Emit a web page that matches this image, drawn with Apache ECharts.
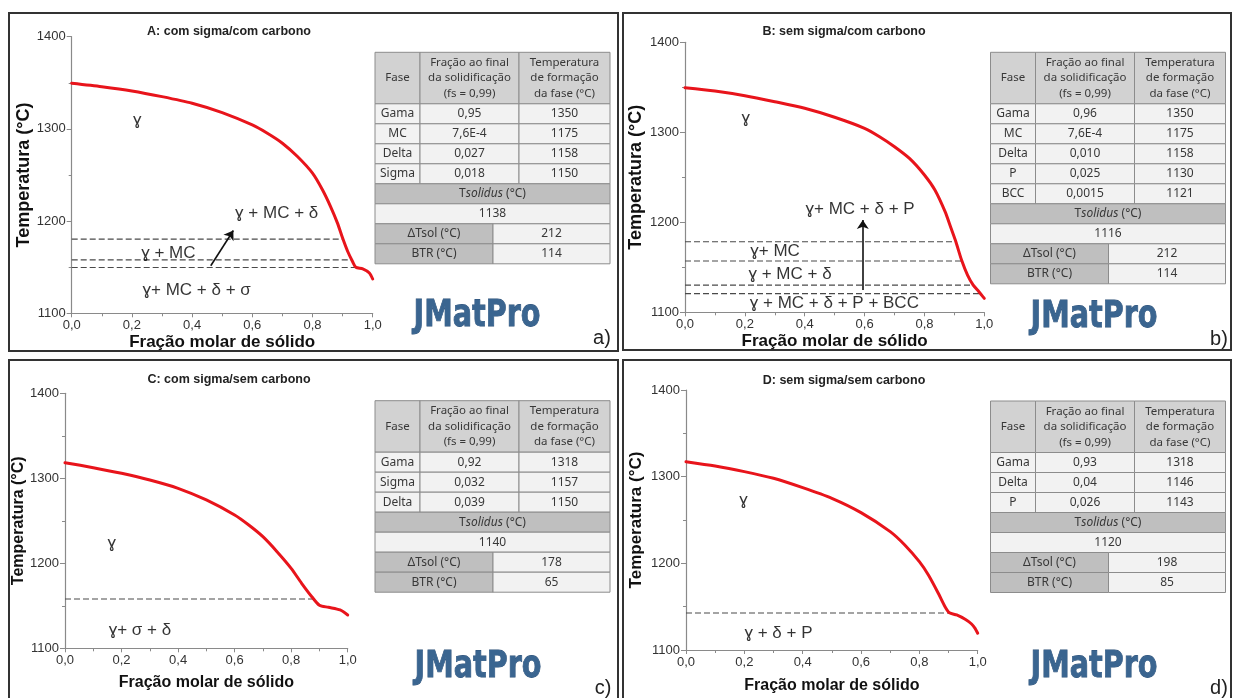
<!DOCTYPE html>
<html><head><meta charset="utf-8">
<script src="https://cdn.jsdelivr.net/npm/echarts@6/dist/echarts.min.js"></script>
<style>html,body{margin:0;padding:0;background:#fff}#c{width:1233px;height:698px}</style>
</head><body><div id="c"></div>
<script>
// ---------- DATA ----------
const titles = ['A: com sigma/com carbono','B: sem sigma/com carbono','C: com sigma/sem carbono','D: sem sigma/sem carbono'];
const tags = ['a)','b)','c)','d)'];
const xAxisName = 'Fração molar de sólido';
const yAxisName = 'Temperatura (°C)';

// solidification curves [fraction solid, T °C]
const curveA = [[0,1349.5],[0.1,1345.8],[0.2,1341.2],[0.3,1335],[0.4,1327.8],[0.5,1317.7],[0.6,1304.3],[0.65,1295.3],[0.7,1284.5],[0.75,1270],[0.8,1252],[0.833,1234],[0.86,1215.8],[0.883,1197.8],[0.9,1181.6],[0.917,1167],[0.933,1156.2],[0.944,1150],[0.967,1148.3],[0.989,1143.7],[1.0,1137.2]];
const curveB = [[0,1349.6],[0.1,1345.9],[0.2,1340.7],[0.3,1334],[0.4,1326.7],[0.5,1316.7],[0.6,1304.4],[0.65,1295.1],[0.7,1284],[0.75,1271],[0.8,1252.6],[0.835,1235.9],[0.869,1211.8],[0.889,1193.3],[0.905,1178.4],[0.924,1158.1],[0.944,1141.4],[0.963,1130.3],[0.982,1122.9],[1.0,1115.5]];
const curveC = [[0,1318.4],[0.1,1312.5],[0.2,1305.9],[0.3,1298],[0.4,1288.2],[0.5,1274.5],[0.6,1256.8],[0.65,1245],[0.7,1231.3],[0.75,1213.7],[0.8,1194.1],[0.837,1176.5],[0.873,1160.7],[0.9,1150.6],[0.932,1148.2],[0.973,1145.1],[1.0,1139.2]];
const curveD = [[0,1317.3],[0.1,1312.3],[0.2,1305.8],[0.3,1298.1],[0.4,1287.3],[0.5,1275],[0.6,1258.5],[0.7,1236.6],[0.75,1221.2],[0.8,1201.9],[0.831,1186.5],[0.865,1165.4],[0.888,1150],[0.903,1143],[0.928,1140.4],[0.957,1135.4],[0.979,1130],[0.991,1125],[1.0,1119.3]];

// dashed phase-boundary lines [T, fraction where line ends]
const dashA = [[1180.5,0.903],[1158,0.933],[1149.7,0.941]];
const dashB = [[1178.4,0.905],[1157,0.927],[1130.3,0.961],[1120.7,0.986]];
const dashC = [[1158,0.884]];
const dashD = [[1142.7,0.905]];

// phase labels [fraction, T, text]
const labelsA = [[0.218,1309.7,'ɣ'],[0.681,1208,'ɣ + MC + δ'],[0.321,1165.3,'ɣ + MC'],[0.415,1124.8,'ɣ+ MC + δ + σ']];
const labelsB = [[0.203,1315.5,'ɣ'],[0.585,1214.8,'ɣ+ MC + δ + P'],[0.301,1167.3,'ɣ+ MC'],[0.351,1142.2,'ɣ + MC + δ'],[0.499,1110,'ɣ + MC + δ + P + BCC']];
const labelsC = [[0.165,1223.5,'ɣ'],[0.265,1120.7,'ɣ+ σ + δ']];
const labelsD = [[0.197,1273,'ɣ'],[0.317,1119,'ɣ + δ + P']];

// arrows [[start],[end]]
const arrowA = [[0.462,1151.6],[0.537,1189.8]];
const arrowB = [[0.594,1124.8],[0.594,1202.6]];

// tables
const tableHeader = ['Fase','Fração ao final\nda solidificação\n(fs = 0,99)','Temperatura\nde formação\nda fase (°C)'];
const rowsA = [['Gama','0,95','1350'],['MC','7,6E-4','1175'],['Delta','0,027','1158'],['Sigma','0,018','1150']];
const rowsB = [['Gama','0,96','1350'],['MC','7,6E-4','1175'],['Delta','0,010','1158'],['P','0,025','1130'],['BCC','0,0015','1121']];
const rowsC = [['Gama','0,92','1318'],['Sigma','0,032','1157'],['Delta','0,039','1150']];
const rowsD = [['Gama','0,93','1318'],['Delta','0,04','1146'],['P','0,026','1143']];
const summaryA = ['1138','212','114'];
const summaryB = ['1116','212','114'];
const summaryC = ['1140','178','65'];
const summaryD = ['1120','198','85'];
const summaryLabels = ['ΔTsol (°C)','BTR (°C)'];
const logoText = 'JMatPro';

// ---------- LAYOUT ----------
const curves = [curveA,curveB,curveC,curveD];
const dashes = [dashA,dashB,dashC,dashD];
const labels = [labelsA,labelsB,labelsC,labelsD];
const arrows = [arrowA,arrowB,null,null];
const rows = [rowsA,rowsB,rowsC,rowsD];
const summaries = [summaryA,summaryB,summaryC,summaryD];

const L = [
 {grid:{left:71.7,top:36.7,width:301,height:276.6}, yGap:39, xGap:21, yFs:18, xFs:17, title:[229,31.7], table:[375,52.3], logo:[477,316], tag:[602,338]},
 {grid:{left:685,top:42.3,width:299.3,height:270}, yGap:40, xGap:21, yFs:18, xFs:17, title:[844,31.7], table:[990.5,52.3], logo:[1094,317], tag:[1219,339]},
 {grid:{left:65,top:393.3,width:282.7,height:255}, yGap:38, xGap:26, yFs:16, xFs:16, title:[229,380], table:[375,400.7], logo:[478,667.5], tag:[603,688]},
 {grid:{left:686,top:390,width:291.7,height:260}, yGap:41, xGap:28, yFs:17, xFs:16, title:[844,380.7], table:[990.5,401], logo:[1094,667.5], tag:[1219,688]}
];
const frames = [[9,13,609,338],[623,13,608,337],[9,360,609,345],[623,360,608,345]];

const AX = '#8a8a8a';
const FONT = 'Liberation Sans';
const TFONT = 'Noto Sans';

const grids = [], xAxes = [], yAxes = [], series = [], graphics = [];

function txt(x, y, text, font, fill, extra) {
  return Object.assign({type:'text', x, y, silent:true, z:20,
    style:{text, font, fill, align:'center', verticalAlign:'middle', textAlign:'center', textVerticalAlign:'middle'}}, extra || {});
}

function buildTable(x0, y0, rws, summ) {
  const cols = [45, 99, 91];
  const W = cols[0]+cols[1]+cols[2];
  const hH = 51.5, rH = 20;
  const stroke = '#8c8c8c';
  const cell = (x,y,w,h,fill) => ({type:'rect', silent:true, z:10, shape:{x,y,width:w,height:h}, style:{fill, stroke, lineWidth:1}});
  const f = '12px "' + TFONT + '"';
  const col = '#383838';
  let x = x0;
  tableHeader.forEach((t,i) => {
    graphics.push(cell(x, y0, cols[i], hH, '#d2d2d2'));
    const g = txt(x + cols[i]/2, y0 + hH/2, t, '11.5px "' + TFONT + '"', col);
    g.style.lineHeight = 15.5;
    graphics.push(g);
    x += cols[i];
  });
  let y = y0 + hH;
  rws.forEach(r => {
    let xx = x0;
    r.forEach((v,i) => {
      graphics.push(cell(xx, y, cols[i], rH, '#f2f2f2'));
      graphics.push(txt(xx + cols[i]/2, y + rH/2, v, f, col));
      xx += cols[i];
    });
    y += rH;
  });
  graphics.push(cell(x0, y, W, rH, '#bfbfbf'));
  graphics.push({type:'text', x:x0 + W/2, y:y + rH/2, silent:true, z:20,
    style:{text:'{n|T}{i|solidus}{n| (°C)}', align:'center', verticalAlign:'middle', textAlign:'center', textVerticalAlign:'middle',
      rich:{n:{fontSize:12, fontFamily:TFONT, fill:col}, i:{fontSize:12, fontFamily:TFONT, fontStyle:'italic', fill:col}}}});
  y += rH;
  graphics.push(cell(x0, y, W, rH, '#f2f2f2'));
  graphics.push(txt(x0 + W/2, y + rH/2, summ[0], f, col));
  y += rH;
  const split = 118;
  for (let k = 0; k < 2; k++) {
    graphics.push(cell(x0, y, split, rH, '#bfbfbf'));
    graphics.push(txt(x0 + split/2, y + rH/2, summaryLabels[k], f, col));
    graphics.push(cell(x0 + split, y, W - split, rH, '#f2f2f2'));
    graphics.push(txt(x0 + split + (W - split)/2, y + rH/2, summ[k+1], f, col));
    y += rH;
  }
}

const mctx = document.createElement('canvas').getContext('2d');
const logoFont = 'bold 40px "DejaVu Sans Condensed"';
mctx.font = logoFont;
const logoW = mctx.measureText(logoText).width || 150;
const logoScale = 127 / logoW;

frames.forEach(fr => graphics.push({type:'rect', silent:true, z:30, shape:{x:fr[0], y:fr[1], width:fr[2], height:fr[3]}, style:{fill:'none', stroke:'#333', lineWidth:2}}));

L.forEach((p, i) => {
  grids.push(Object.assign({outerBoundsMode:'none', containLabel:false}, p.grid));
  xAxes.push({type:'value', gridIndex:i, min:0, max:1, interval:0.2,
    name:xAxisName, nameLocation:'middle', nameGap:p.xGap,
    nameTextStyle:{fontWeight:'bold', fontSize:p.xFs, color:'#111', fontFamily:FONT},
    axisLine:{show:true, onZero:false, lineStyle:{color:AX, width:1.2}},
    axisTick:{show:true, length:4, lineStyle:{color:AX}},
    minorTick:{show:true, splitNumber:2, length:3, lineStyle:{color:AX}},
    splitLine:{show:false}, minorSplitLine:{show:false},
    axisLabel:{fontSize:13, color:'#333', margin:6, fontFamily:FONT, formatter:v => v.toFixed(1).replace('.', ',')}});
  yAxes.push({type:'value', gridIndex:i, min:1100, max:1400, interval:100,
    name:yAxisName, nameLocation:'middle', nameGap:p.yGap, nameRotate:90,
    nameTextStyle:{fontWeight:'bold', fontSize:p.yFs, color:'#111', fontFamily:FONT},
    axisLine:{show:true, onZero:false, lineStyle:{color:AX, width:1.2}},
    axisTick:{show:true, length:5, lineStyle:{color:AX}},
    minorTick:{show:true, splitNumber:2, length:3, lineStyle:{color:AX}},
    splitLine:{show:false}, minorSplitLine:{show:false},
    axisLabel:{fontSize:13, color:'#333', margin:6, fontFamily:FONT, formatter:v => String(Math.round(v))}});

  dashes[i].forEach(d => series.push({type:'line', xAxisIndex:i, yAxisIndex:i, data:[[0,d[0]],[d[1],d[0]]],
    symbol:'none', silent:true, animation:false, z:3,
    lineStyle:{color:'#4a4a4a', width:1.2, type:[6,3]}}));

  const cs = {type:'line', xAxisIndex:i, yAxisIndex:i, data:curves[i], symbol:'none', showSymbol:false,
    smooth:0.25, silent:true, animation:false, z:5,
    lineStyle:{color:'#e8141b', width:3, cap:'round', join:'round'}};
  if (arrows[i]) {
    cs.markLine = {silent:true, animation:false, symbol:['none','arrow'], symbolSize:9, label:{show:false},
      lineStyle:{type:'solid', color:'#111', width:1.6},
      data:[[{coord:arrows[i][0]},{coord:arrows[i][1]}]]};
  }
  series.push(cs);

  series.push({type:'scatter', xAxisIndex:i, yAxisIndex:i, symbolSize:1, silent:true, animation:false, z:6,
    itemStyle:{color:'transparent'},
    data:labels[i].map(l => ({value:[l[0], l[1]], name:l[2]})),
    label:{show:true, position:'inside', formatter:'{b}', fontSize:17, color:'#000', fontFamily:FONT,
      textBorderWidth:0}});

  graphics.push(txt(p.title[0], p.title[1], titles[i], 'bold 12.5px "' + FONT + '"', '#222'));
  buildTable(p.table[0], p.table[1], rows[i], summaries[i]);
  graphics.push({type:'text', x:p.logo[0], y:p.logo[1], scaleX:logoScale, scaleY:0.95, silent:true, z:20,
    style:{text:logoText, font:logoFont, align:'center', verticalAlign:'middle', textAlign:'center', textVerticalAlign:'middle',
      fill:'#3a6590', stroke:'#2c5078', lineWidth:0.8}});
  graphics.push(txt(p.tag[0], p.tag[1], tags[i], '20px "' + FONT + '"', '#222'));
});

const chart = echarts.init(document.getElementById('c'), null, {renderer:'canvas'});
chart.setOption({
  backgroundColor:'#ffffff',
  animation:false,
  grid:grids, xAxis:xAxes, yAxis:yAxes, series:series,
  graphic:{elements:graphics}
});
</script>
</body></html>
